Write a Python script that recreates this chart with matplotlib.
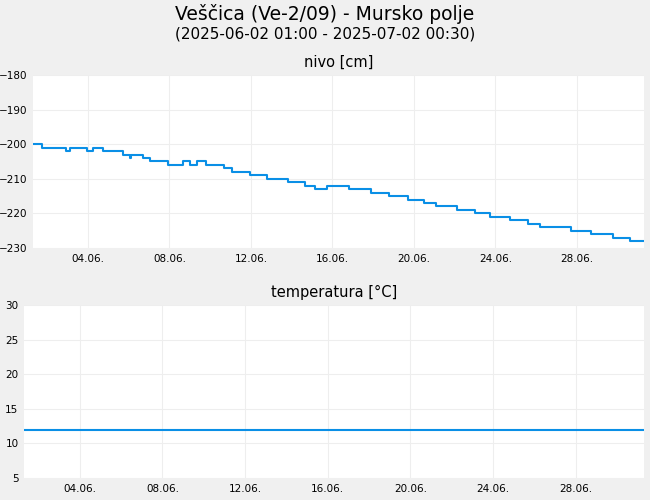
import matplotlib
matplotlib.use("Agg")
import matplotlib.pyplot as plt
import numpy as np

# level steps: (day offset from 02.06 01:00, value)
lvl_days = [0, 0.45, 1.6, 1.8, 2.65, 2.95, 3.45, 4.4, 4.4+0.35, 4.82, 4.9, 5.4, 5.75, 6.63, 7.35, 7.7, 8.05, 8.5, 9.4, 9.77, 10.65, 11.5, 12.5, 13.35, 13.85, 14.45, 15.5, 16.6, 17.5, 18.4, 19.2, 19.8, 20.8, 21.7, 22.45, 23.4, 24.3, 24.9, 26.4, 27.4, 28.5, 29.3]
lvl_vals = [-200, -201, -202, -201, -202, -201, -202, -203, -204, -203, -203, -204, -205, -206, -205, -206, -205, -206, -207, -208, -209, -210, -211, -212, -213, -212, -213, -214, -215, -216, -217, -218, -219, -220, -221, -222, -223, -224, -225, -226, -227, -228]
end_day = 30.0
temp_val = 11.9
tick_labels = ["04.06.", "08.06.", "12.06.", "16.06.", "20.06.", "24.06.", "28.06."]
tick_pos = [2.7, 6.7, 10.7, 14.7, 18.7, 22.7, 26.7]

color = "#0a8fe6"
fig = plt.figure(figsize=(6.5, 5), dpi=100, facecolor="#f0f0f0")
ax1 = fig.add_axes([33/650, 1-248/500, 611/650, 173/500])
ax2 = fig.add_axes([24/650, 1-478/500, 620/650, 173/500])

x = lvl_days + [end_day]
y = lvl_vals + [lvl_vals[-1]]
ax1.step(x, y, where="post", color=color, lw=1.5)
ax1.set_ylim(-230, -180)
ax1.set_yticks(np.arange(-230, -179, 10))
ax2.plot([0, end_day], [temp_val, temp_val], color=color, lw=1.5)
ax2.set_ylim(5, 30)
ax2.set_yticks(np.arange(5, 31, 5))

for ax, t in [(ax1, "nivo [cm]"), (ax2, "temperatura [°C]")]:
    ax.set_xlim(0, end_day)
    ax.set_xticks(tick_pos)
    ax.set_xticklabels(tick_labels)
    ax.grid(True, color="#eeeeee", lw=0.8)
    ax.tick_params(labelsize=7.5, length=0, pad=4)
    for s in ax.spines.values():
        s.set_visible(False)
    ax.set_title(t, fontsize=10.5, pad=6)

fig.text(0.5, 1-14/500, "Veščica (Ve-2/09) - Mursko polje", ha="center", va="center", fontsize=13.5)
fig.text(0.5, 1-34/500, "(2025-06-02 01:00 - 2025-07-02 00:30)", ha="center", va="center", fontsize=11)
fig.savefig("out.png", dpi=100, facecolor=fig.get_facecolor())
